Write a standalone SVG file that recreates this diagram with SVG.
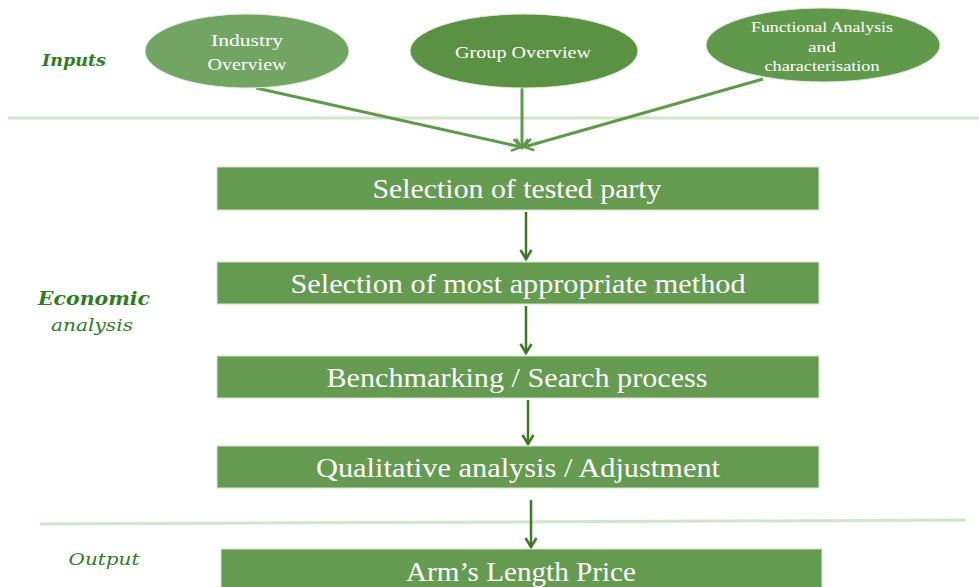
<svg xmlns="http://www.w3.org/2000/svg" width="979" height="587" viewBox="0 0 979 587">
<defs>
<style>
.lbl{font-family:"Liberation Serif","DejaVu Serif",serif;fill:#ffffff;text-anchor:middle}
.side{font-family:"DejaVu Serif","Liberation Serif",serif;fill:#2f7d1f;font-style:italic;text-anchor:middle}
.box{fill:#659a51;stroke:#d6e6cf;stroke-width:1}
.in{stroke:#5f9a4a;stroke-width:3;fill:none}
.flow{stroke:#3c7a22;stroke-width:2.5;fill:none}
.sep{stroke:#d3e4cc;stroke-width:3;fill:none}
</style>
<marker id="openV" markerWidth="14" markerHeight="14" refX="10" refY="7" orient="auto" markerUnits="userSpaceOnUse">
<path d="M1,1 L10,7 L1,13" fill="none" stroke="#5f9a4a" stroke-width="2.5"/>
</marker>
<marker id="flowV" markerWidth="14" markerHeight="14" refX="10" refY="7" orient="auto" markerUnits="userSpaceOnUse">
<path d="M1,1.5 L10,7 L1,12.5" fill="none" stroke="#3c7a22" stroke-width="2.5"/>
</marker>
</defs>
<rect width="979" height="587" fill="#ffffff"/>

<g id="separators">
<line class="sep" x1="8" y1="118" x2="979" y2="118"/>
<line class="sep" x1="40" y1="524" x2="966" y2="520"/>
</g>

<g id="side-labels">
<text class="side" x="74" y="66" font-size="17" font-weight="bold" textLength="64" lengthAdjust="spacingAndGlyphs">Inputs</text>
<text class="side" x="94" y="305" font-size="18" font-weight="bold" textLength="112" lengthAdjust="spacingAndGlyphs">Economic</text>
<text class="side" x="92" y="331" font-size="17" textLength="82" lengthAdjust="spacingAndGlyphs">analysis</text>
<text class="side" x="104" y="565" font-size="17" textLength="71" lengthAdjust="spacingAndGlyphs">Output</text>
</g>

<g id="connectors">
<line class="in" x1="256" y1="88" x2="521" y2="147" marker-end="url(#openV)"/>
<line class="in" x1="522" y1="88" x2="522" y2="148" marker-end="url(#openV)"/>
<line class="in" x1="763" y1="79" x2="524" y2="147" marker-end="url(#openV)"/>
<line class="flow" x1="526" y1="212" x2="526" y2="259" marker-end="url(#flowV)"/>
<line class="flow" x1="526" y1="306" x2="526" y2="353" marker-end="url(#flowV)"/>
<line class="flow" x1="528" y1="400" x2="528" y2="444" marker-end="url(#flowV)"/>
<line class="flow" x1="531" y1="500" x2="531" y2="547" marker-end="url(#flowV)"/>
</g>

<g id="industry-overview">
<ellipse cx="247" cy="51" rx="102" ry="37" fill="#72a564" stroke="#e2eedd" stroke-width="1"/>
<text class="lbl" x="247" y="46" font-size="17" textLength="72" lengthAdjust="spacingAndGlyphs">Industry</text>
<text class="lbl" x="247" y="70" font-size="17" textLength="79" lengthAdjust="spacingAndGlyphs">Overview</text>
</g>

<g id="group-overview">
<ellipse cx="524" cy="51" rx="114" ry="37" fill="#5a9142" stroke="#e2eedd" stroke-width="1"/>
<text class="lbl" x="523" y="58" font-size="17" textLength="136" lengthAdjust="spacingAndGlyphs">Group Overview</text>
</g>

<g id="functional-analysis">
<ellipse cx="823" cy="45" rx="117" ry="37" fill="#61994c" stroke="#e2eedd" stroke-width="1"/>
<text class="lbl" x="822" y="32" font-size="15" textLength="142" lengthAdjust="spacingAndGlyphs">Functional Analysis</text>
<text class="lbl" x="822" y="52" font-size="15" textLength="28" lengthAdjust="spacingAndGlyphs">and</text>
<text class="lbl" x="822" y="71" font-size="15" textLength="115" lengthAdjust="spacingAndGlyphs">characterisation</text>
</g>

<g id="tested-party">
<rect class="box" x="217" y="167" width="602" height="43"/>
<text class="lbl" x="517" y="198" font-size="27" textLength="289" lengthAdjust="spacingAndGlyphs">Selection of tested party</text>
</g>

<g id="method">
<rect class="box" x="217" y="262" width="602" height="42"/>
<text class="lbl" x="518" y="293" font-size="27" textLength="455" lengthAdjust="spacingAndGlyphs">Selection of most appropriate method</text>
</g>

<g id="benchmarking">
<rect class="box" x="217" y="356" width="602" height="42"/>
<text class="lbl" x="517" y="387" font-size="27" textLength="381" lengthAdjust="spacingAndGlyphs">Benchmarking / Search process</text>
</g>

<g id="qualitative">
<rect class="box" x="217" y="446" width="602" height="42"/>
<text class="lbl" x="518" y="477" font-size="27" textLength="404" lengthAdjust="spacingAndGlyphs">Qualitative analysis / Adjustment</text>
</g>

<g id="arms-length">
<rect class="box" x="221" y="549" width="601" height="45"/>
<text class="lbl" x="521" y="581" font-size="27" textLength="230" lengthAdjust="spacingAndGlyphs">Arm’s Length Price</text>
</g>
</svg>
